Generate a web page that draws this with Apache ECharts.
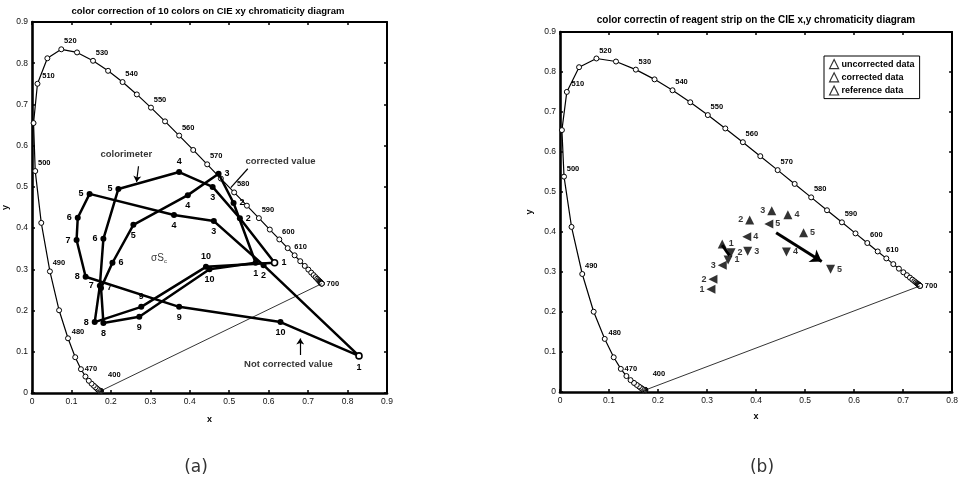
<!DOCTYPE html>
<html><head><meta charset="utf-8">
<script src="https://cdn.jsdelivr.net/npm/echarts@6/dist/echarts.min.js"></script>
<style>html,body{margin:0;padding:0;background:#fff}#c{width:961px;height:496px}</style>
</head><body><div id="c"></div>
<script>
// ---- spectral locus (CIE 1931, 5 nm steps) ----
const locusNm = [380,385,390,395,400,405,410,415,420,425,430,435,440,445,450,455,460,465,470,475,480,485,490,495,500,505,510,515,520,525,530,535,540,545,550,555,560,565,570,575,580,585,590,595,600,605,610,615,620,625,630,635,640,645,650,655,660,665,670,675,680,685,690,695,700];
const locusX = [0.1741,0.1740,0.1738,0.1736,0.1733,0.1730,0.1726,0.1721,0.1714,0.1703,0.1689,0.1669,0.1644,0.1611,0.1566,0.1510,0.1440,0.1355,0.1241,0.1096,0.0913,0.0687,0.0454,0.0235,0.0082,0.0039,0.0139,0.0389,0.0743,0.1142,0.1547,0.1929,0.2296,0.2658,0.3016,0.3373,0.3731,0.4087,0.4441,0.4788,0.5125,0.5448,0.5752,0.6029,0.6270,0.6482,0.6658,0.6801,0.6915,0.7006,0.7079,0.7140,0.7190,0.7230,0.7260,0.7283,0.7300,0.7311,0.7320,0.7327,0.7334,0.7340,0.7344,0.7346,0.7347];
const locusY = [0.0050,0.0050,0.0049,0.0049,0.0048,0.0048,0.0048,0.0048,0.0051,0.0058,0.0069,0.0086,0.0109,0.0138,0.0177,0.0227,0.0297,0.0399,0.0578,0.0868,0.1327,0.2007,0.2950,0.4127,0.5384,0.6548,0.7502,0.8120,0.8338,0.8262,0.8059,0.7816,0.7543,0.7243,0.6923,0.6589,0.6245,0.5896,0.5547,0.5202,0.4866,0.4544,0.4242,0.3965,0.3725,0.3514,0.3340,0.3197,0.3083,0.2993,0.2920,0.2859,0.2809,0.2770,0.2740,0.2717,0.2700,0.2689,0.2680,0.2673,0.2666,0.2660,0.2656,0.2654,0.2653];
const locusLabelNm = [400,470,480,490,500,510,520,530,540,550,560,570,580,590,600,610,700];

// ---- panel (a): 10 colours ----
const pointNames = ['1','2','3','4','5','6','7','8','9','10'];
const colorimeterX = [0.615,0.527,0.458,0.373,0.219,0.181,0.172,0.159,0.277,0.441];
const colorimeterY = [0.316,0.424,0.500,0.536,0.495,0.374,0.260,0.172,0.209,0.306];
const correctedX   = [0.567,0.511,0.473,0.395,0.257,0.204,0.175,0.181,0.272,0.450];
const correctedY   = [0.316,0.461,0.532,0.480,0.408,0.316,0.255,0.170,0.185,0.300];
const uncorrectedX = [0.829,0.587,0.461,0.360,0.146,0.116,0.113,0.136,0.373,0.630];
const uncorrectedY = [0.090,0.310,0.417,0.432,0.483,0.425,0.371,0.282,0.209,0.172];
const notesA  = ['colorimeter','corrected value','Not corrected value'];
const notesAX = [0.239,0.630,0.650];
const notesAY = [0.578,0.561,0.070];
const arrowsA = [[0.270,0.550,0.265,0.512],[0.547,0.544,0.504,0.498],[0.680,0.092,0.680,0.132]];

// ---- panel (b): reagent strip ----
const stripNames = ['1','2','3','4','5'];
const stripUncorrX = [0.308,0.312,0.331,0.381,0.426];
const stripUncorrY = [0.257,0.282,0.317,0.388,0.420];
const stripCorrX   = [0.343,0.349,0.383,0.462,0.552];
const stripCorrY   = [0.330,0.348,0.352,0.350,0.307];
const stripRefX    = [0.331,0.387,0.432,0.465,0.497];
const stripRefY    = [0.370,0.430,0.453,0.443,0.398];
const arrowsB = [[0.441,0.398,0.534,0.326],[0.331,0.367,0.346,0.341]];

const xTicksA = [0,0.1,0.2,0.3,0.4,0.5,0.6,0.7,0.8,0.9];
const xTicksB = [0,0.1,0.2,0.3,0.4,0.5,0.6,0.7,0.8];

// ---- styles (kept apart from data) ----
const colLabelPos = ['right','right','bottom','top','left','left','left','left','top','top'];
const corLabelPos = ['bottom','right','right','bottom','bottom','right','right','bottom','bottom','bottom'];
const uncLabelPos = ['bottom','bottom','bottom','bottom','left','left','left','left','bottom','bottom'];
const sUncLabelPos = ['left','left','left','right','right'];
const sCorLabelPos = ['right','right','right','right','right'];
const sRefLabelPos = ['right','left','left','right','right'];
const locusLabelOffset = {400:[14,-16],470:[10,0],480:[10,-6],510:[11,-8],610:[6,-8],700:[11,0]};

const fmt = v => { const r = Math.round(v*10)/10; return r === 0 ? '0' : r.toFixed(1); };

function mkAxis(gi, max, pos, showLabels, name, gap){
  const thick = (pos==='bottom'||pos==='left');
  return {type:'value', gridIndex:gi, min:0, max:max, interval:0.1, position:pos,
    name: showLabels ? name : '', nameLocation:'middle', nameGap:gap,
    nameTextStyle:{fontSize:9,fontWeight:'bold',color:'#000'},
    axisLine:{show:true,onZero:false,lineStyle:{color:'#000',width:thick?2.6:2}},
    axisTick:{show:true,inside:true,length:3,lineStyle:{color:'#000',width:1.5}},
    axisLabel:{show:showLabels,fontSize:8.5,color:'#111',margin:4,formatter:fmt},
    splitLine:{show:false}};
}

function locusSeries(xi, yi){
  return {type:'line', xAxisIndex:xi, yAxisIndex:yi, silent:true, z:2,
    symbol:'circle', symbolSize:5,
    itemStyle:{color:'#fff',borderColor:'#000',borderWidth:1},
    lineStyle:{color:'#000',width:1.2},
    data: locusX.map((x,i)=>{
      const nm = locusNm[i];
      const item = {value:[x,locusY[i]]};
      if (locusLabelNm.indexOf(nm) >= 0) {
        item.label = {show:true, position:'inside', offset: locusLabelOffset[nm] || [9,-8],
          formatter: String(nm), fontSize:7.5, fontWeight:'bold', color:'#000'};
      }
      return item;
    })};
}
function purpleLine(xi, yi){
  const n = locusX.length-1;
  return {type:'line', xAxisIndex:xi, yAxisIndex:yi, silent:true, symbol:'none',
    lineStyle:{color:'#000',width:0.8},
    data:[[locusX[0],locusY[0]],[locusX[n],locusY[n]]]};
}
function loopSeries(name, xs, ys, pos, hollowFirst){
  const data = xs.map((x,i)=>({value:[x,ys[i]],
    itemStyle: (hollowFirst && i===0) ? {color:'#fff',borderColor:'#000',borderWidth:1.6} : undefined,
    label:{show:true, position:pos[i], distance:3, formatter:pointNames[i], fontSize:9, fontWeight:'bold', color:'#000'}}));
  data.push({value:[xs[0],ys[0]], symbol:'none', label:{show:false}});
  return {type:'line', name:name, xAxisIndex:0, yAxisIndex:0, z:5,
    symbol:'circle', symbolSize:6, itemStyle:{color:'#000'},
    lineStyle:{color:'#000',width:2.5}, data:data};
}
function stripSeries(name, xs, ys, pos, rot){
  return {type:'scatter', name:name, xAxisIndex:2, yAxisIndex:2, z:5,
    symbol:'triangle', symbolSize:9, symbolRotate:rot, itemStyle:{color:'#000'},
    data: xs.map((x,i)=>({value:[x,ys[i]],
      label:{show:true, position:pos[i], distance:2, formatter:stripNames[i], fontSize:9, fontWeight:'bold', color:'#000'}}))};
}
function arrowSeries(xi, yi, arr, width, heads, size){
  return {type:'lines', coordinateSystem:'cartesian2d', xAxisIndex:xi, yAxisIndex:yi, z:6,
    symbol:['none','arrow'], symbolSize:size,
    lineStyle:{color:'#000',width:width,opacity:1},
    data: arr.map((a,i)=>({coords:[[a[0],a[1]],[a[2],a[3]]], symbol:['none', heads[i]?'arrow':'none']}))};
}

const noteData = notesA.map((t,i)=>({value:[notesAX[i],notesAY[i]],
  label:{show:true, position:'inside', formatter:t, fontSize:9.5, fontWeight:'bold', color:'#000'}}));
noteData.push({value:[0.322,0.328], label:{show:true, position:'inside', formatter:'{a|σS}{b|c}',
  rich:{a:{fontSize:10,color:'#000'}, b:{fontSize:6,color:'#000',padding:[8,0,0,0]}}}});

const option = {
  animation:false,
  backgroundColor:'#fff',
  textStyle:{fontFamily:'Liberation Sans'},
  grid:[{left:30,top:22,width:357,height:371},{left:560,top:32,width:394,height:360}],
  xAxis:[mkAxis(0,0.9,'bottom',true,'x',22), mkAxis(0,0.9,'top',false,'',0),
         mkAxis(1,0.8,'bottom',true,'x',20), mkAxis(1,0.8,'top',false,'',0)],
  yAxis:[mkAxis(0,0.9,'left',true,'y',22), mkAxis(0,0.9,'right',false,'',0),
         mkAxis(1,0.9,'left',true,'y',26), mkAxis(1,0.9,'right',false,'',0)],
  legend:{show:true, data:['uncorrected data','corrected data','reference data'],
    left:824, top:56, orient:'vertical', backgroundColor:'#fff',
    borderColor:'#000', borderWidth:1, padding:[3,5,3,5], itemGap:3,
    itemWidth:9, itemHeight:9,
    itemStyle:{color:'#fff',borderColor:'#000',borderWidth:1.2},
    textStyle:{fontSize:9,fontWeight:'bold',color:'#000',padding:[0,0,0,-2]}},
  series:[
    locusSeries(0,0), purpleLine(0,0),
    loopSeries('colorimeter', colorimeterX, colorimeterY, colLabelPos, true),
    loopSeries('corrected', correctedX, correctedY, corLabelPos, false),
    loopSeries('not corrected', uncorrectedX, uncorrectedY, uncLabelPos, true),
    arrowSeries(0,0,arrowsA,1.2,[true,false,true],6),
    {type:'scatter', xAxisIndex:0, yAxisIndex:0, symbolSize:1, itemStyle:{color:'rgba(0,0,0,0)'}, silent:true, z:7, data:noteData},
    locusSeries(2,2), purpleLine(2,2),
    stripSeries('uncorrected data', stripUncorrX, stripUncorrY, sUncLabelPos, 90),
    stripSeries('corrected data', stripCorrX, stripCorrY, sCorLabelPos, 180),
    stripSeries('reference data', stripRefX, stripRefY, sRefLabelPos, 0),
    arrowSeries(2,2,arrowsB,3,[true,false],11)
  ],
  graphic:[
    {type:'text', x:208, y:11, style:{text:'color correction of 10 colors on CIE xy chromaticity diagram', fontSize:9.5, fontWeight:'bold', fontFamily:'Liberation Sans', fill:'#000', align:'center', verticalAlign:'middle'}},
    {type:'text', x:756, y:20, style:{text:'color correctin of reagent strip on the CIE x,y chromaticity diagram', fontSize:10, fontWeight:'bold', fontFamily:'Liberation Sans', fill:'#000', align:'center', verticalAlign:'middle'}},
    {type:'text', x:196, y:468, style:{text:'(a)', fontSize:17, fontFamily:'DejaVu Sans', fill:'#333', align:'center', verticalAlign:'middle'}},
    {type:'text', x:762, y:468, style:{text:'(b)', fontSize:17, fontFamily:'DejaVu Sans', fill:'#333', align:'center', verticalAlign:'middle'}}
  ]
};
const chart = echarts.init(document.getElementById('c'), null, {renderer:'canvas'});
chart.setOption(option);
</script></body></html>
